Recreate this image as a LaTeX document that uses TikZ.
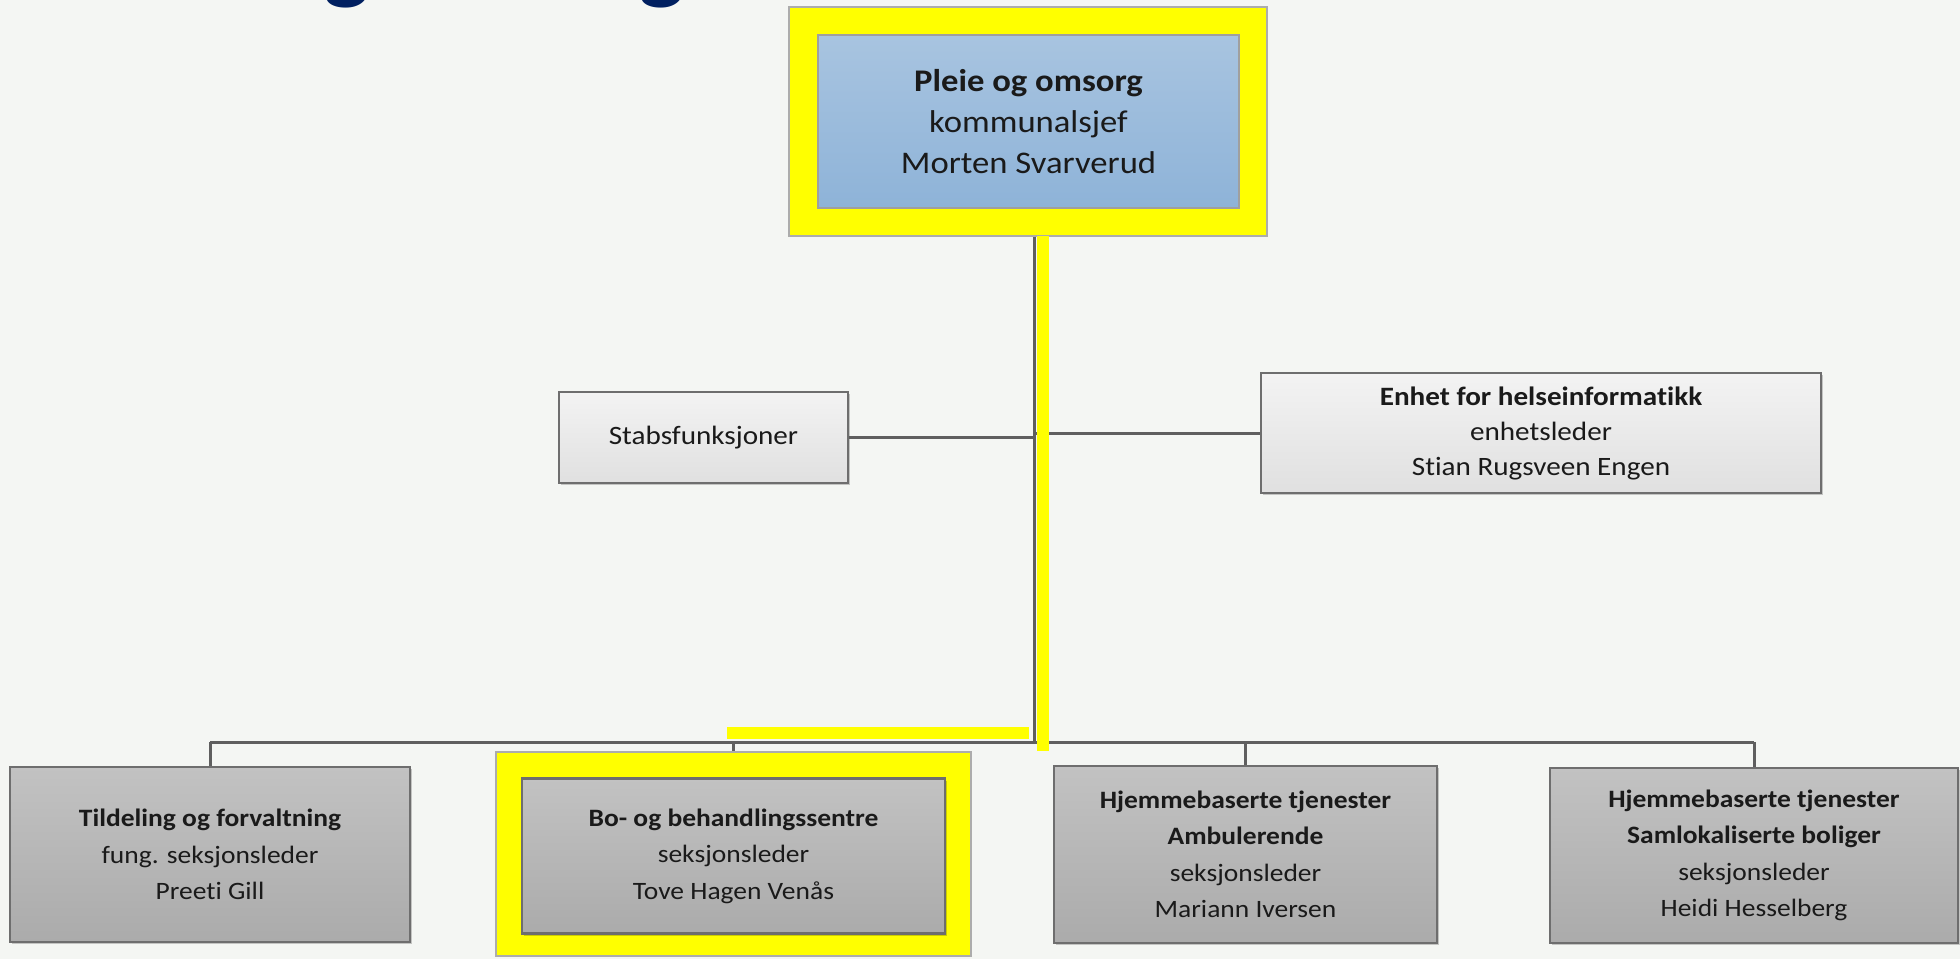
\documentclass[tikz,border=0pt]{standalone}
\usepackage{fontspec}
\setmainfont{Carlito}[FakeStretch=1.1, Ligatures=NoCommon]
\usetikzlibrary{shadows,calc}
\definecolor{bg}{HTML}{F4F6F3}
\definecolor{linec}{HTML}{5F5F5F}
\definecolor{bord}{HTML}{6E6E6E}
\definecolor{bluetop}{HTML}{A8C4E0}
\definecolor{bluebot}{HTML}{8EB3D8}
\definecolor{ltop}{HTML}{F3F3F3}
\definecolor{lbot}{HTML}{E0E0E0}
\definecolor{gtop}{HTML}{C2C2C2}
\definecolor{gbot}{HTML}{ABABAB}
\definecolor{navy}{HTML}{002060}
\definecolor{hl}{HTML}{FFFF00}
\definecolor{txt}{HTML}{1A1A1A}
\begin{document}
\begin{tikzpicture}[x=0.5pt,y=-0.5pt,
  box/.style={draw=bord, line width=1.2pt, inner sep=0pt, align=center, text=txt},
  topbox/.style={box, draw=gray!75, line width=0.6pt, top color=bluetop, bottom color=bluebot,
    font=\fontsize{15.75}{20.5}\selectfont},
  staffbox/.style={box, top color=ltop, bottom color=lbot,
    font=\fontsize{13.25}{17.5}\selectfont,
    drop shadow={shadow xshift=1pt, shadow yshift=-1pt, fill=black, opacity=0.2}},
  secbox/.style={box, top color=gtop, bottom color=gbot,
    font=\fontsize{12.5}{18.25}\selectfont,
    drop shadow={shadow xshift=1pt, shadow yshift=-1pt, fill=black, opacity=0.2}},
  hlbox/.style={draw=gray!65, line width=0.6pt, fill=hl, inner sep=0pt},
  conn/.style={draw=linec, line width=1.5pt},
  hlline/.style={draw=hl, line width=6pt}
]
\useasboundingbox (0,0) rectangle (1960,959);
\fill[bg] (0,0) rectangle (1960,959);

% cut-off title (only its descenders are visible in the reference)
\begin{scope}
  \clip (0,0) rectangle (1960,959);
  \node[anchor=base west, inner sep=0pt, text=navy,
        font=\fontsize{43}{43}\selectfont\bfseries] (title) at (60,-7) {Pleie og omsorg};
\end{scope}

% highlight frames
\node[hlbox, minimum width=239pt, minimum height=114.5pt] (topY) at (1028,121.5) {};
\node[hlbox, minimum width=237.5pt, minimum height=102pt] (boY) at (733.5,854) {};

% boxes
\node[topbox, minimum width=210.5pt, minimum height=86.5pt] (top) at (1028.5,121.5)
  {\textbf{Pleie og omsorg}\\kommunalsjef\\Morten Svarverud};
\node[staffbox, minimum width=144.5pt, minimum height=45.5pt] (stabs) at (703.5,437.5)
  {Stabsfunksjoner};
\node[staffbox, minimum width=280pt, minimum height=60pt] (enhet) at (1541,433)
  {\textbf{Enhet for helseinformatikk}\\enhetsleder\\Stian Rugsveen Engen};
\node[secbox, minimum width=200pt, minimum height=87.5pt] (til) at (210,854.5)
  {\textbf{Tildeling og forvaltning}\\fung. seksjonsleder\\Preeti Gill};
\node[secbox, minimum width=211.5pt, minimum height=77.5pt] (bo) at (733.5,856)
  {\textbf{Bo- og behandlingssentre}\\seksjonsleder\\Tove Hagen Venås};
\node[secbox, minimum width=191.5pt, minimum height=88.5pt] (amb) at (1245.5,854.5)
  {\textbf{Hjemmebaserte tjenester}\\\textbf{Ambulerende}\\seksjonsleder\\Mariann Iversen};
\node[secbox, minimum width=204pt, minimum height=87.5pt] (sam) at (1754,855.5)
  {\textbf{Hjemmebaserte tjenester}\\\textbf{Samlokaliserte boliger}\\seksjonsleder\\Heidi Hesselberg};

% connectors
\coordinate (spine) at (1034,742);
\draw[conn] (topY.south -| spine) -- (spine);
\draw[conn] (stabs.east) -- (stabs.east -| spine);
\draw[conn] (enhet.west -| spine) -- (enhet.west);
\draw[conn] (til.north |- spine) -- (sam.north |- spine);
\draw[conn] (til.north |- spine) -- (til.north);
\draw[conn] (boY.north |- spine) -- (boY.north);
\draw[conn] (amb.north |- spine) -- (amb.north);
\draw[conn] (sam.north |- spine) -- (sam.north);

% yellow highlight strokes
\coordinate (hv1) at (1043,236);
\coordinate (hv2) at (1043,751);
\coordinate (hh1) at (727,733);
\coordinate (hh2) at (1029,733);
\draw[hlline] (hv1) -- (hv2);
\draw[hlline] (hh1) -- (hh2);
\end{tikzpicture}
\end{document}
